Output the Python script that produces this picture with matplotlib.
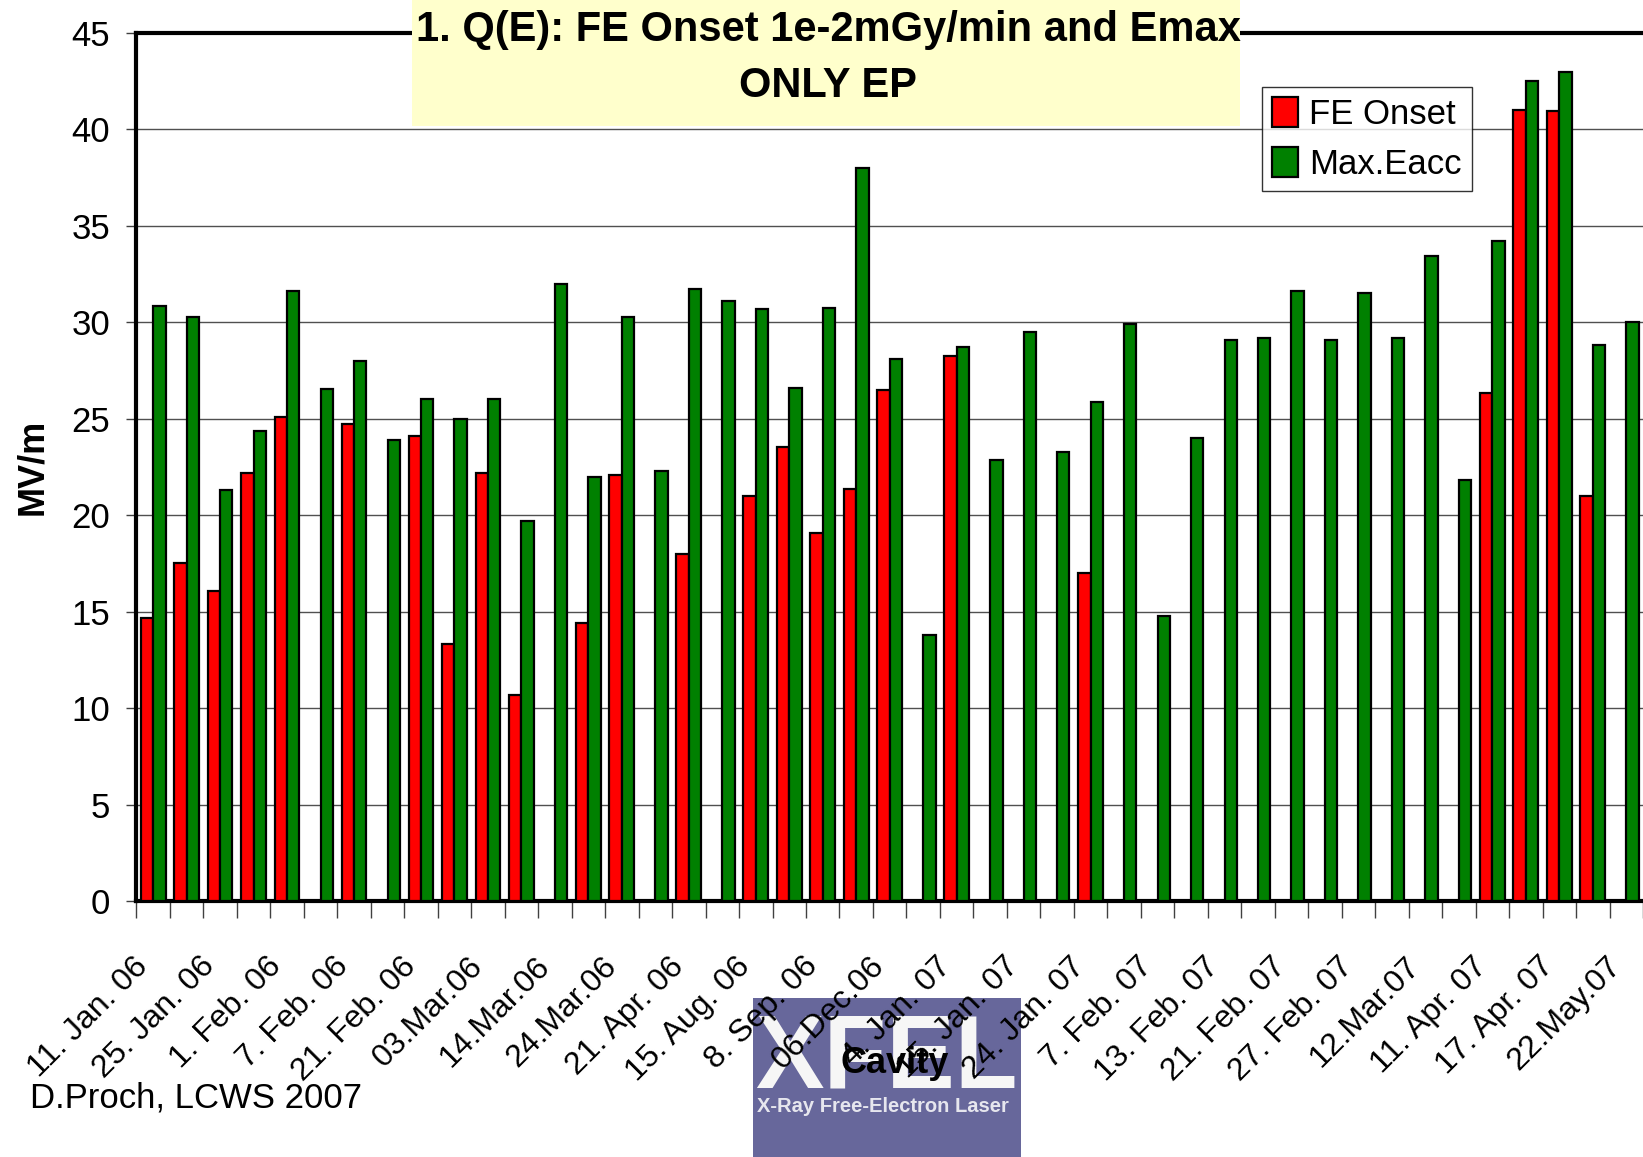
import matplotlib
matplotlib.use("Agg")
import matplotlib.pyplot as plt
from matplotlib.patches import Rectangle
import numpy as np

plt.rcParams['font.family'] = ['Liberation Sans', 'DejaVu Sans']

# FE onset (red) and max. Eacc (green) per cavity test, MV/m
fe_onset = [14.7, 17.5, 16.05, 22.2, 25.1, 0, 24.75, 0, 24.1, 13.35,
            22.2, 10.7, 0, 14.4, 22.1, 0, 18.0, 0, 21.0, 23.55,
            19.1, 21.35, 26.5, 0, 28.25, 0, 0, 0, 17.0, 0,
            0, 0, 0, 0, 0, 0, 0, 0, 0, 0,
            26.35, 41.0, 40.95, 21.0, 0]
max_eacc = [30.85, 30.25, 21.3, 24.35, 31.6, 26.55, 28.0, 23.9, 26.0, 25.0,
            26.0, 19.7, 32.0, 22.0, 30.25, 22.3, 31.7, 31.1, 30.7, 26.6,
            30.75, 38.0, 28.1, 13.8, 28.7, 22.85, 29.5, 23.25, 25.85, 29.9,
            14.8, 24.0, 29.05, 29.2, 31.6, 29.1, 31.5, 29.2, 33.4, 21.8,
            34.2, 42.5, 42.95, 28.8, 30.0]
# every second test is labelled on the axis
date_labels = ["11. Jan. 06", "25. Jan. 06", "1. Feb. 06", "7. Feb. 06",
               "21. Feb. 06", "03.Mar.06", "14.Mar.06", "24.Mar.06",
               "21. Apr. 06", "15. Aug. 06", "8. Sep. 06", "06.Dec.06",
               "4. Jan. 07", "15. Jan. 07", "24. Jan. 07", "7. Feb. 07",
               "13. Feb. 07", "21. Feb. 07", "27. Feb. 07", "12.Mar.07",
               "11. Apr. 07", "17. Apr. 07", "22.May.07"]

W, H = 1643, 1157
fig = plt.figure(figsize=(W / 100, H / 100), dpi=100)
ax = fig.add_axes([136.4 / W, 1 - 901.4 / H, 1 - 136.4 / W, 868.9 / H])

x = np.arange(len(max_eacc))
bw = 0.37
ax.bar(x - bw / 2, fe_onset, bw, color='#FF0000', edgecolor='black', lw=1.6,
       label='FE Onset', zorder=3)
ax.bar(x + bw / 2, max_eacc, bw, color='#008000', edgecolor='black', lw=1.6,
       label='Max.Eacc', zorder=3)

ax.set_xlim(-0.5, 44.25)
ax.set_ylim(0, 45)
ax.set_yticks(np.arange(0, 46, 5))
ax.yaxis.grid(True, color='#505050', lw=1.0)
ax.set_axisbelow(True)

for s in ['left', 'top', 'bottom']:
    ax.spines[s].set_linewidth(3)
ax.spines['right'].set_visible(False)

# tick marks at group boundaries, labels every second group
ax.set_xticks(np.arange(-0.5, 45, 1))
ax.set_xticklabels([])
ax.tick_params(axis='x', which='major', length=12, width=1, color='#404040')
ax.set_xticks(np.arange(0, 45, 2) + 0.02, minor=True)
ax.set_xticklabels(date_labels, minor=True, rotation=45, ha='right', va='top',
                   fontsize=23)
ax.tick_params(axis='x', which='minor', length=0, pad=36)
ax.tick_params(axis='y', length=7, width=1, color='#404040', labelsize=25, pad=12)

ax.set_ylabel('MV/m', fontsize=26, fontweight='bold')
ax.yaxis.set_label_coords(-0.0573, 0.5)
ax.set_xlabel('Cavity', fontsize=26, fontweight='bold')
ax.xaxis.set_label_coords(0.503, -0.186)
ax.xaxis.label.set_va('center')

leg = ax.legend(loc='upper left', bbox_to_anchor=(1262 / W, 1 - 87 / H),
                bbox_transform=fig.transFigure, borderaxespad=0, fontsize=25,
                frameon=True, fancybox=False, handlelength=0.75, handleheight=0.95,
                handletextpad=0.3, labelspacing=0.45, borderpad=0.3)
leg.get_frame().set_edgecolor('black')
leg.get_frame().set_linewidth(1.0)

# title box
fig.patches.append(Rectangle((412 / W, 1 - 126 / H), 828 / W, 126 / H,
                             transform=fig.transFigure, facecolor='#FFFFCC',
                             edgecolor='none', zorder=5))
fig.text(828 / W, 1 - 30 / H, '1. Q(E): FE Onset 1e-2mGy/min and Emax',
         ha='center', va='center', fontsize=30, fontweight='bold', zorder=6)
fig.text(828 / W, 1 - 86 / H, 'ONLY EP', ha='center', va='center',
         fontsize=30, fontweight='bold', zorder=6)

# XFEL logo below the axis
fig.patches.append(Rectangle((753 / W, 0), 268 / W, 1 - 998 / H,
                             transform=fig.transFigure, facecolor='#67679B',
                             edgecolor='none', zorder=-2))
fig.text(886 / W, 1 - 1088 / H, 'XFEL', ha='center', va='baseline',
         fontsize=74, fontweight='bold', color='#F6F6F6', zorder=-1)
fig.text(883 / W, 1 - 1107 / H, 'X-Ray Free-Electron Laser', ha='center',
         va='center', fontsize=14.5, fontweight='bold', color='#E6E6EE', zorder=-1)

fig.text(30 / W, 1 - 1098 / H, 'D.Proch, LCWS 2007', ha='left', va='center',
         fontsize=25)

fig.savefig('out.png', dpi=100)
